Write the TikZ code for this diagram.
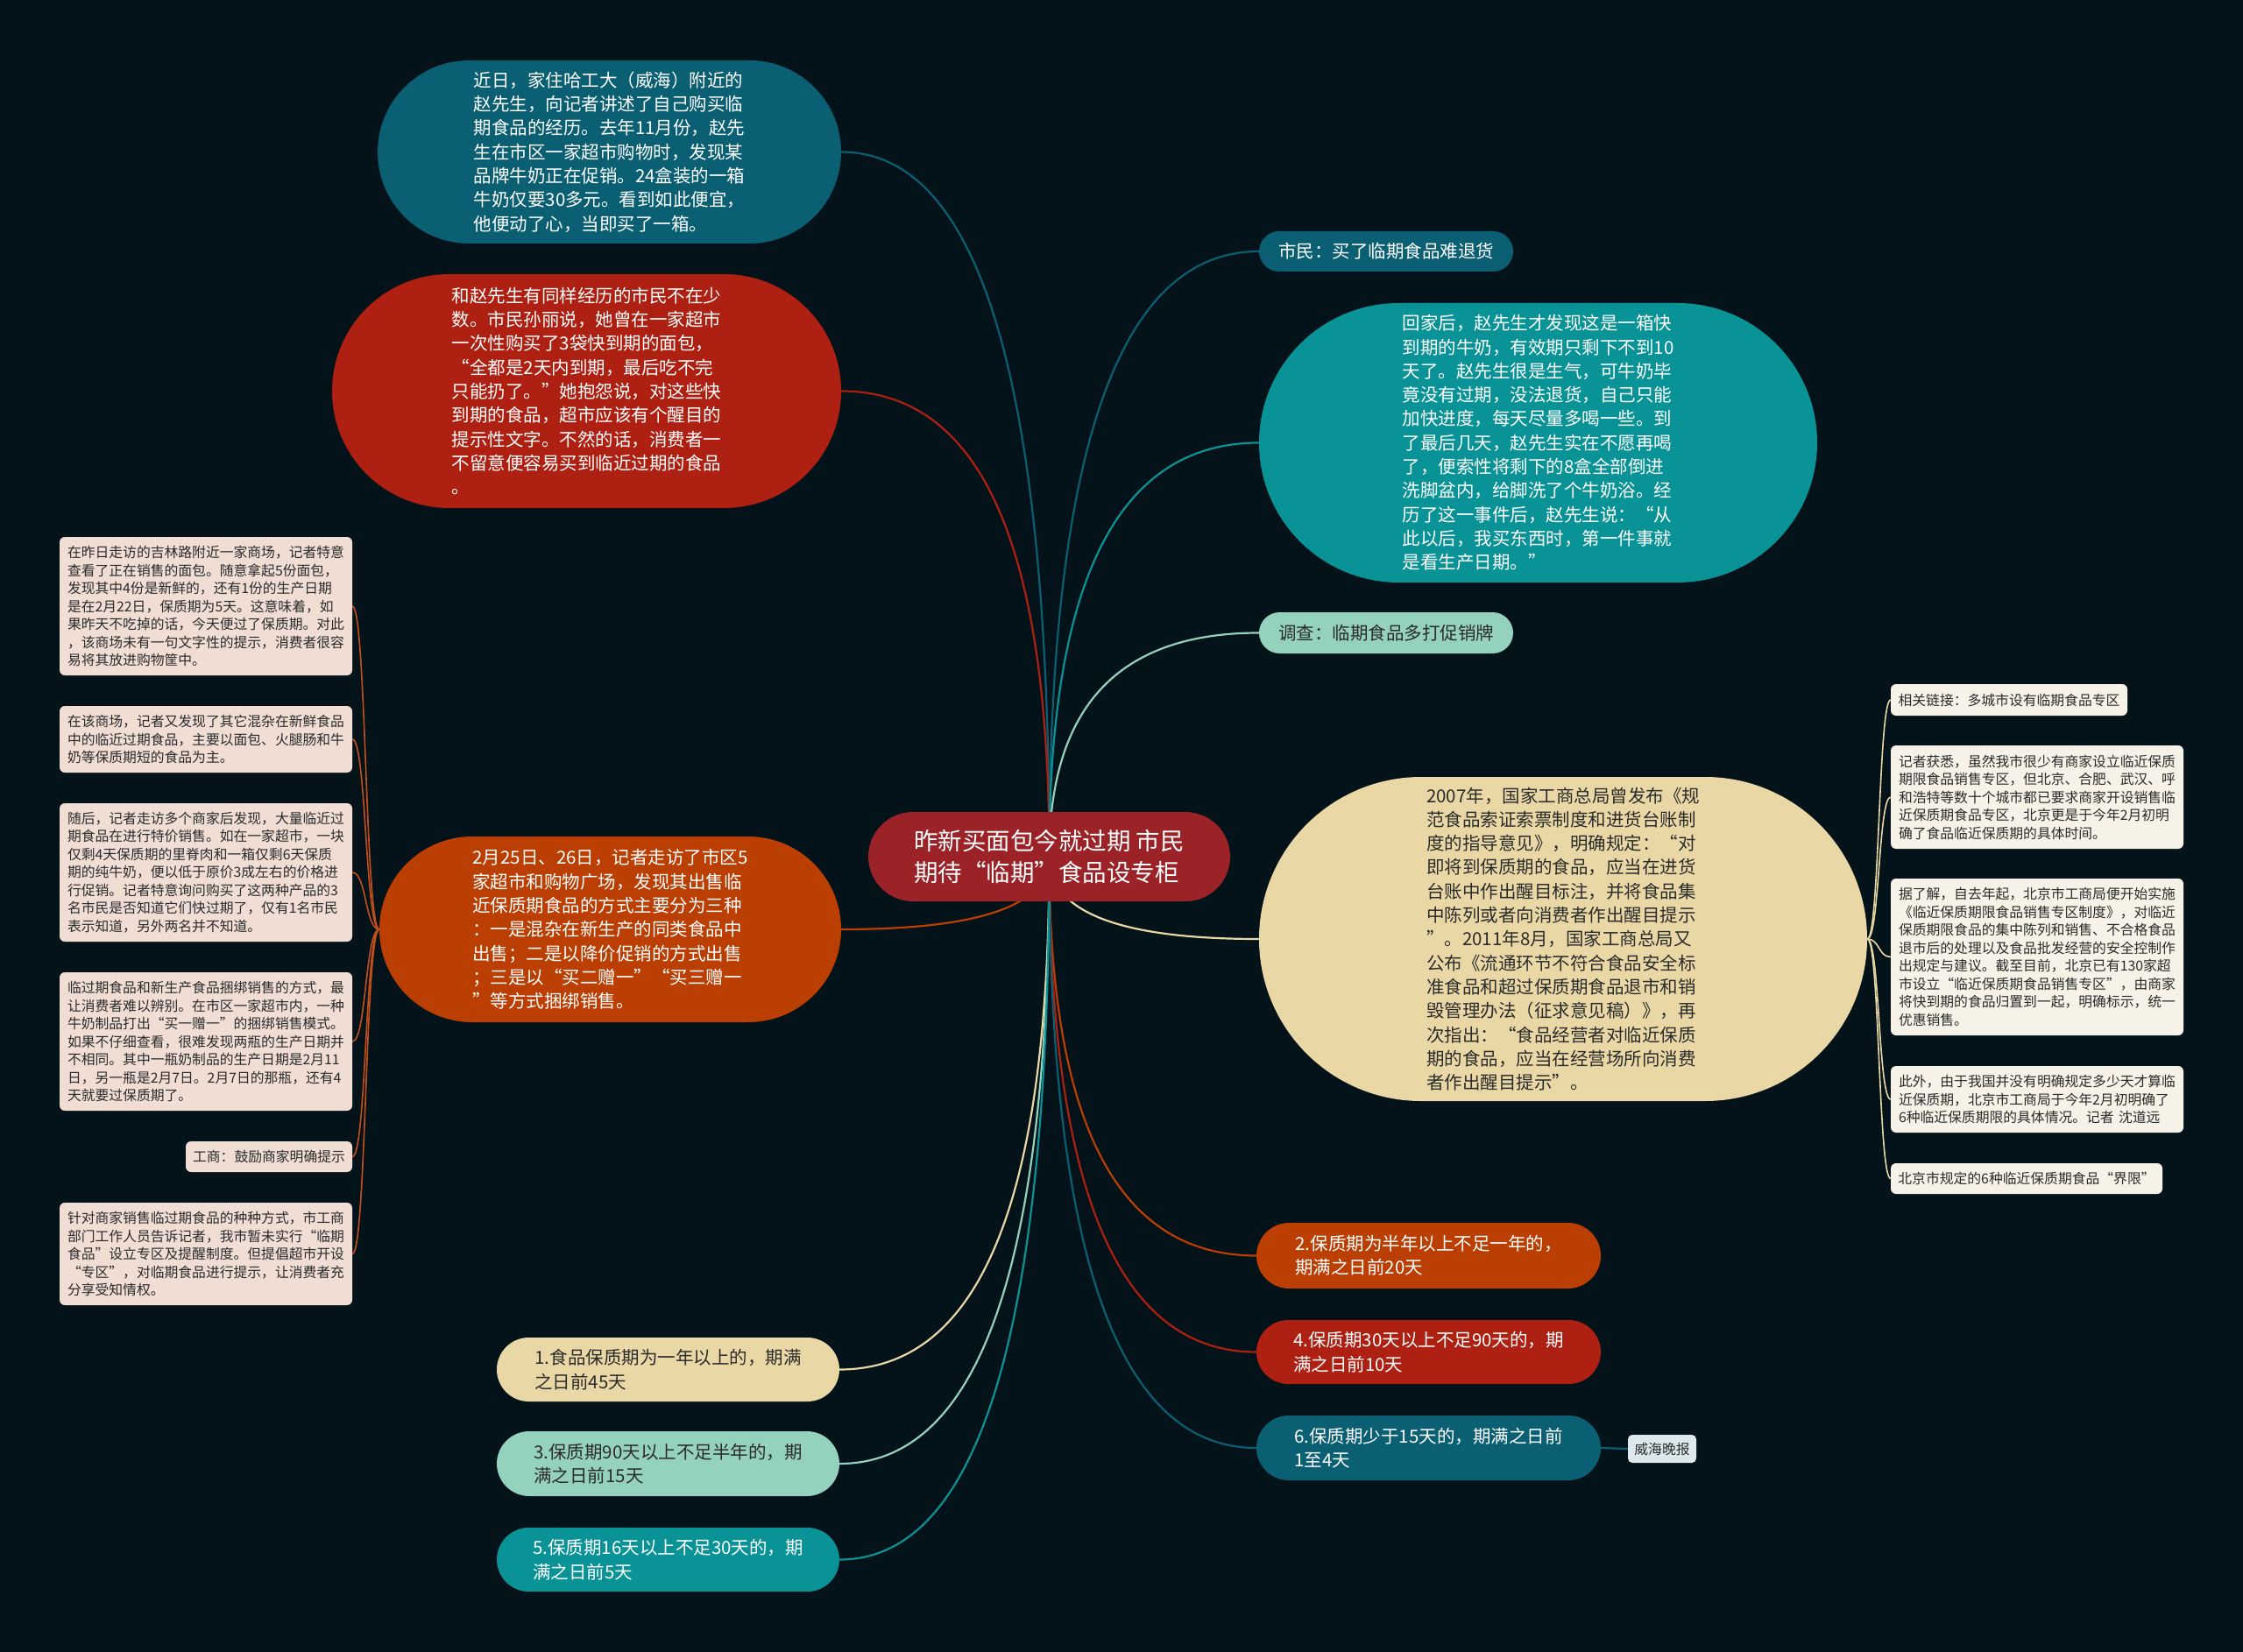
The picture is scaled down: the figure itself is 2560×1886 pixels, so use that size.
\documentclass[tikz,border=0pt]{standalone}
\usepackage{fontspec}
\setmainfont{Noto Sans CJK SC}
\usetikzlibrary{calc}
\definecolor{bgc}{HTML}{041219}
\definecolor{dteal}{HTML}{0A5F73}
\definecolor{bteal}{HTML}{0A9396}
\definecolor{lteal}{HTML}{94D2BD}
\definecolor{beige}{HTML}{E9D8A6}
\definecolor{orng}{HTML}{BB3E03}
\definecolor{redc}{HTML}{AE2012}
\definecolor{rootc}{HTML}{9B2226}
\definecolor{pinkbox}{HTML}{F0DDD3}
\definecolor{creambox}{HTML}{F6F2E8}
\definecolor{bluebox}{HTML}{DCE8EC}
\definecolor{darktext}{HTML}{2B2B2B}
\definecolor{sublinkorange}{HTML}{C4501C}
\pgfdeclarelayer{bg}
\pgfdeclarelayer{edges}
\pgfsetlayers{bg,edges,main}
\tikzset{
  pill/.style 2 args={minimum width=#1, minimum height=#2, rounded corners=#2/2, inner sep=0pt, align=left},
  bigw/.style={font=\fontsize{20.5}{27.3}\selectfont, text=white},
  bigd/.style={font=\fontsize{20.5}{27.3}\selectfont, text=darktext},
  sbox/.style={rounded corners=6, inner xsep=9, inner ysep=0pt, text width=316, align=left,
               font=\fontsize{15.8}{20.5}\selectfont, text=darktext, minimum height=#1},
  sboxone/.style={rounded corners=6, inner sep=0pt, align=left, minimum height=#1,
               font=\fontsize{15.8}{20.5}\selectfont, text=darktext},
  link/.style={line width=2.2pt},
  sublink/.style={line width=1.6pt},
}
\newcommand\rootlink[2]{\draw[link,#1] (root.center) .. controls ($(root.center)!0.67!(root.center|-#2)$) and ($(#2)!0.67!(root.center|-#2)$) .. (#2);}
\begin{document}
\begin{tikzpicture}[x=1pt,y=-1pt]
\useasboundingbox (0,0) rectangle (2560,1886);
\begin{pgfonlayer}{bg}
\fill[bgc] (0,0) rectangle (2560,1886);
\end{pgfonlayer}

% root
\node[pill={413}{102}, fill=rootc, text=white, font=\fontsize{27.5}{36}\selectfont] (root) at (1197.5,978)
  {昨新买面包今就过期 市民\\期待“临期”食品设专柜};

% left big nodes
\node[pill={529}{209}, fill=dteal, bigw] (n1) at (695.5,173.5)
  {近日，家住哈工大（威海）附近的\\赵先生，向记者讲述了自己购买临\\期食品的经历。去年11月份，赵先\\生在市区一家超市购物时，发现某\\品牌牛奶正在促销。24盒装的一箱\\牛奶仅要30多元。看到如此便宜，\\他便动了心，当即买了一箱。};
\node[pill={581}{267}, fill=redc, bigw] (n2) at (669.5,446.5)
  {和赵先生有同样经历的市民不在少\\数。市民孙丽说，她曾在一家超市\\一次性购买了3袋快到期的面包，\\“全都是2天内到期，最后吃不完\\只能扔了。”她抱怨说，对这些快\\到期的食品，超市应该有个醒目的\\提示性文字。不然的话，消费者一\\不留意便容易买到临近过期的食品\\。};
\node[pill={527}{212}, fill=orng, bigw] (n3) at (696.5,1061)
  {2月25日、26日，记者走访了市区5\\家超市和购物广场，发现其出售临\\近保质期食品的方式主要分为三种\\：一是混杂在新生产的同类食品中\\出售；二是以降价促销的方式出售\\；三是以“买二赠一”“买三赠一\\”等方式捆绑销售。};

% right big nodes
\node[pill={290}{46}, fill=dteal, bigw] (n4) at (1582,287) {市民：买了临期食品难退货};
\node[pill={637}{319}, fill=bteal, bigw] (n5) at (1755.5,505.5)
  {回家后，赵先生才发现这是一箱快\\到期的牛奶，有效期只剩下不到10\\天了。赵先生很是生气，可牛奶毕\\竟没有过期，没法退货，自己只能\\加快进度，每天尽量多喝一些。到\\了最后几天，赵先生实在不愿再喝\\了，便索性将剩下的8盒全部倒进\\洗脚盆内，给脚洗了个牛奶浴。经\\历了这一事件后，赵先生说：“从\\此以后，我买东西时，第一件事就\\是看生产日期。”};
\node[pill={290}{47}, fill=lteal, bigd] (n6) at (1582,722.5) {调查：临期食品多打促销牌};
\node[pill={694}{370}, fill=beige, bigd] (n7) at (1784,1072)
  {2007年，国家工商总局曾发布《规\\范食品索证索票制度和进货台账制\\度的指导意见》，明确规定：“对\\即将到保质期的食品，应当在进货\\台账中作出醒目标注，并将食品集\\中陈列或者向消费者作出醒目提示\\”。2011年8月，国家工商总局又\\公布《流通环节不符合食品安全标\\准食品和超过保质期食品退市和销\\毁管理办法（征求意见稿）》，再\\次指出：“食品经营者对临近保质\\期的食品，应当在经营场所向消费\\者作出醒目提示”。};
\node[pill={393}{75}, fill=orng, bigw] (n8) at (1630.5,1433.5) {2.保质期为半年以上不足一年的，\\期满之日前20天};
\node[pill={393}{73}, fill=redc, bigw] (n9) at (1630.5,1543.5) {4.保质期30天以上不足90天的，期\\满之日前10天};
\node[pill={393}{74}, fill=dteal, bigw] (n10) at (1630.5,1653) {6.保质期少于15天的，期满之日前\\1至4天};
\node[sboxone={32}, minimum width=78, fill=bluebox, rounded corners=5] (n11) at (1897,1654) {威海晚报};

% bottom-left nodes
\node[pill={391}{73}, fill=beige, bigd] (n12) at (762.5,1563.5) {1.食品保质期为一年以上的，期满\\之日前45天};
\node[pill={391}{74}, fill=lteal, bigd] (n13) at (762.5,1671) {3.保质期90天以上不足半年的，期\\满之日前15天};
\node[pill={391}{73}, fill=bteal, bigw] (n14) at (762.5,1780.5) {5.保质期16天以上不足30天的，期\\满之日前5天};

% left small boxes
\node[sbox={158}, fill=pinkbox] (b1) at (235,692)
  {在昨日走访的吉林路附近一家商场，记者特意\\查看了正在销售的面包。随意拿起5份面包，\\发现其中4份是新鲜的，还有1份的生产日期\\是在2月22日，保质期为5天。这意味着，如\\果昨天不吃掉的话，今天便过了保质期。对此\\，该商场未有一句文字性的提示，消费者很容\\易将其放进购物筐中。};
\node[sbox={76}, fill=pinkbox] (b2) at (235,844)
  {在该商场，记者又发现了其它混杂在新鲜食品\\中的临近过期食品，主要以面包、火腿肠和牛\\奶等保质期短的食品为主。};
\node[sbox={158}, fill=pinkbox] (b3) at (235,996)
  {随后，记者走访多个商家后发现，大量临近过\\期食品在进行特价销售。如在一家超市，一块\\仅剩4天保质期的里脊肉和一箱仅剩6天保质\\期的纯牛奶，便以低于原价3成左右的价格进\\行促销。记者特意询问购买了这两种产品的3\\名市民是否知道它们快过期了，仅有1名市民\\表示知道，另外两名并不知道。};
\node[sbox={158}, fill=pinkbox] (b4) at (235,1189)
  {临过期食品和新生产食品捆绑销售的方式，最\\让消费者难以辨别。在市区一家超市内，一种\\牛奶制品打出“买一赠一”的捆绑销售模式。\\如果不仔细查看，很难发现两瓶的生产日期并\\不相同。其中一瓶奶制品的生产日期是2月11\\日，另一瓶是2月7日。2月7日的那瓶，还有4\\天就要过保质期了。};
\node[sboxone={35}, minimum width=190, fill=pinkbox] (b5) at (307,1320.5) {工商：鼓励商家明确提示};
\node[sbox={117}, fill=pinkbox] (b6) at (235,1431.5)
  {针对商家销售临过期食品的种种方式，市工商\\部门工作人员告诉记者，我市暂未实行“临期\\食品”设立专区及提醒制度。但提倡超市开设\\“专区”，对临期食品进行提示，让消费者充\\分享受知情权。};

% right small boxes
\node[sboxone={36}, minimum width=270, fill=creambox] (r1) at (2293,799) {相关链接：多城市设有临期食品专区};
\node[sbox={118}, fill=creambox] (r2) at (2325,910)
  {记者获悉，虽然我市很少有商家设立临近保质\\期限食品销售专区，但北京、合肥、武汉、呼\\和浩特等数十个城市都已要求商家开设销售临\\近保质期食品专区，北京更是于今年2月初明\\确了食品临近保质期的具体时间。};
\node[sbox={179}, fill=creambox] (r3) at (2325,1092.5)
  {据了解，自去年起，北京市工商局便开始实施\\《临近保质期限食品销售专区制度》，对临近\\保质期限食品的集中陈列和销售、不合格食品\\退市后的处理以及食品批发经营的安全控制作\\出规定与建议。截至目前，北京已有130家超\\市设立“临近保质期食品销售专区”，由商家\\将快到期的食品归置到一起，明确标示，统一\\优惠销售。};
\node[sbox={76}, fill=creambox] (r4) at (2325,1255)
  {此外，由于我国并没有明确规定多少天才算临\\近保质期，北京市工商局于今年2月初明确了\\6种临近保质期限的具体情况。记者 沈道远};
\node[sboxone={35}, minimum width=310, fill=creambox] (r5) at (2313,1345.5) {北京市规定的6种临近保质期食品“界限”};

% connectors
\begin{pgfonlayer}{edges}
\rootlink{dteal}{n1.east}
\rootlink{redc}{n2.east}
\rootlink{orng}{n3.east}
\rootlink{dteal}{n4.west}
\rootlink{bteal}{n5.west}
\rootlink{lteal}{n6.west}
\rootlink{beige}{n7.west}
\rootlink{orng}{n8.west}
\rootlink{redc}{n9.west}
\rootlink{dteal}{n10.west}
\rootlink{beige}{n12.east}
\rootlink{lteal}{n13.east}
\rootlink{bteal}{n14.east}
\draw[link,dteal] (n10.east) -- (n11.west);
\foreach \b in {b1,b2,b3,b4,b5,b6}
  \draw[sublink,sublinkorange] (n3.west) .. controls +(-16,0) and +(16,0) .. (\b.east);
\foreach \r in {r1,r2,r3,r4,r5}
  \draw[sublink,beige] (n7.east) .. controls +(14,0) and +(-14,0) .. (\r.west);
\end{pgfonlayer}
\end{tikzpicture}
\end{document}
